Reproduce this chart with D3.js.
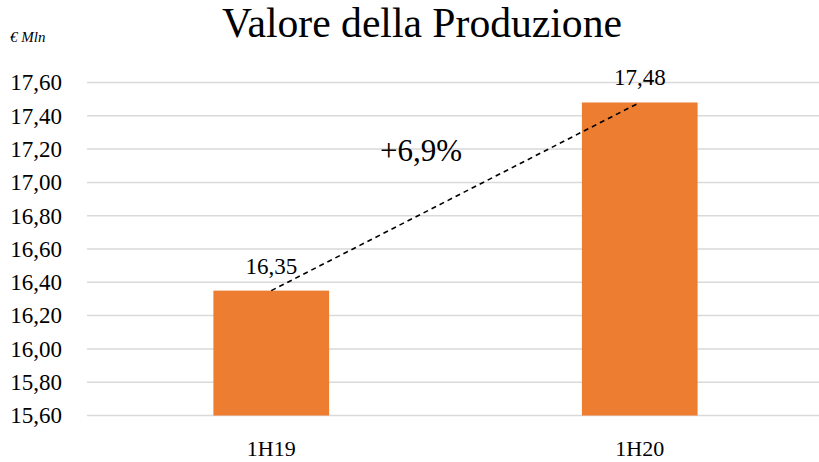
<!DOCTYPE html>
<html>
<head>
<meta charset="utf-8">
<script src="https://cdn.jsdelivr.net/npm/d3@7"></script>
<style>
  html, body { margin: 0; padding: 0; background: #fff; }
  svg { display: block; font-family: "Liberation Serif", "DejaVu Serif", serif; }
</style>
</head>
<body>
<div id="chart"></div>
<script>
// Valore della Produzione, € Mln
const categories = ['1H19', '1H20'];
const values = [16.35, 17.48];
const yTicks = [15.6, 15.8, 16.0, 16.2, 16.4, 16.6, 16.8, 17.0, 17.2, 17.4, 17.6];
const growthLabel = '+6,9%';

const width = 819, height = 462;
const margin = { top: 82.5, right: -5, bottom: 46.5, left: 87 };

const svg = d3.select('#chart').append('svg')
    .attr('width', width)
    .attr('height', height);

const fmt = v => d3.format('.2f')(v).replace('.', ',');

const x = d3.scaleBand()
    .domain(categories)
    .range([margin.left, width - margin.right])
    .paddingInner(0.686)
    .paddingOuter(0.343);

const y = d3.scaleLinear()
    .domain([15.6, 17.6])
    .range([height - margin.bottom, margin.top]);

// gridlines
svg.append('g')
    .selectAll('line')
    .data(yTicks)
    .join('line')
    .attr('x1', margin.left)
    .attr('x2', width)
    .attr('y1', d => y(d))
    .attr('y2', d => y(d))
    .attr('stroke', '#d9d9d9')
    .attr('stroke-width', 1.5);

// y tick labels
svg.append('g')
    .selectAll('text')
    .data(yTicks)
    .join('text')
    .attr('x', 62)
    .attr('y', d => y(d))
    .attr('dy', '0.34em')
    .attr('text-anchor', 'end')
    .attr('font-size', 23)
    .attr('fill', '#000')
    .text(fmt);

// bars
svg.append('g')
    .selectAll('rect')
    .data(values)
    .join('rect')
    .attr('x', (d, i) => x(categories[i]))
    .attr('y', d => y(d))
    .attr('width', x.bandwidth())
    .attr('height', d => y(15.6) - y(d))
    .attr('fill', '#ED7D31');

// value labels
svg.append('g')
    .selectAll('text')
    .data(values)
    .join('text')
    .attr('x', (d, i) => x(categories[i]) + x.bandwidth() / 2)
    .attr('y', d => y(d) - 17)
    .attr('text-anchor', 'middle')
    .attr('font-size', 23)
    .text(fmt);

// category labels
svg.append('g')
    .selectAll('text')
    .data(categories)
    .join('text')
    .attr('x', d => x(d) + x.bandwidth() / 2)
    .attr('y', 456)
    .attr('text-anchor', 'middle')
    .attr('font-size', 22)
    .text(d => d);

// growth line between bar tops
const cx = i => x(categories[i]) + x.bandwidth() / 2;
svg.append('line')
    .attr('x1', cx(0))
    .attr('y1', y(values[0]))
    .attr('x2', cx(1))
    .attr('y2', y(values[1]))
    .attr('stroke', '#000')
    .attr('stroke-width', 1.6)
    .attr('stroke-dasharray', '5,4');

svg.append('text')
    .attr('x', 421)
    .attr('y', 161)
    .attr('text-anchor', 'middle')
    .attr('font-size', 31)
    .text(growthLabel);

// title and unit
const title = svg.append('text')
    .attr('x', 422)
    .attr('y', 37)
    .attr('text-anchor', 'middle')
    .attr('font-size', 36)
    .text('Valore della Produzione');
// grow the font until the title is as wide as in the reference (~400px)
const tw = title.node().getComputedTextLength();
title.attr('font-size', Math.min(42, 36 * 400 / tw));

svg.append('text')
    .attr('x', 10)
    .attr('y', 42)
    .attr('font-size', 15)
    .attr('font-style', 'italic')
    .text('€ Mln');
</script>
</body>
</html>
